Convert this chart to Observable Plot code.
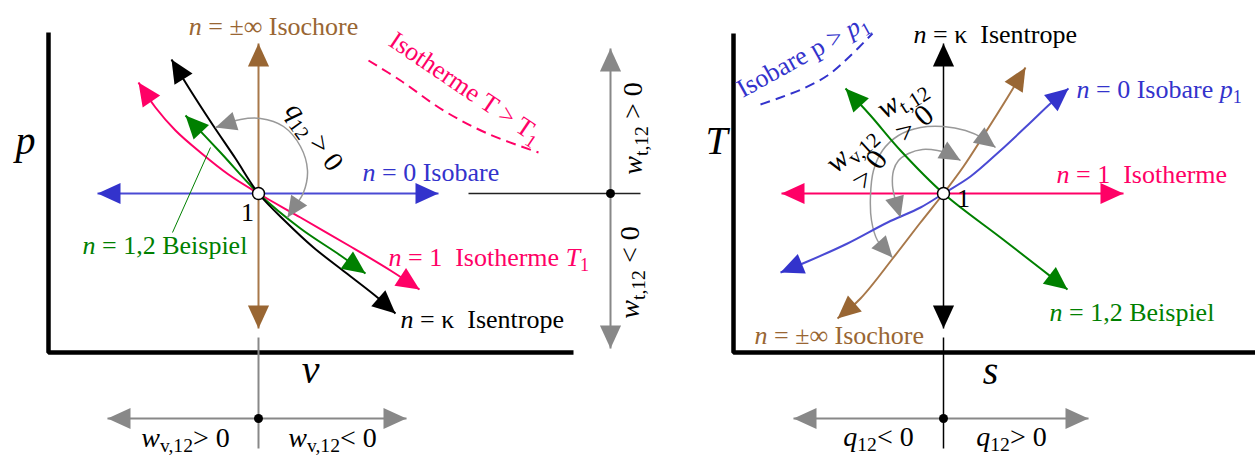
<!DOCTYPE html>
<html><head><meta charset="utf-8">
<script src="https://cdn.jsdelivr.net/npm/d3@7"></script>
<script src="https://cdn.jsdelivr.net/npm/@observablehq/plot@0.6"></script>
<style>
html,body{margin:0;padding:0;background:#fff;}
#wrap{display:flex;width:1255px;height:455px;overflow:hidden;}
#wrap svg{overflow:visible;flex:none;}
</style></head><body><div id="wrap"></div>
<script>
// ---------- p–v diagram, coordinates relative to state point 1 ----------
const pvFrame = [[-210,161],[-210,-159],[315,-159]];
const pvIsobar = [[-161,0],[180,0]];
const pvIsochor = [[0,150],[0,-135]];
const pvIsotherm = [[-120,111],[-103,86],[-83,63],[-58,41],[-30,19],[0,0],[42,-24],[92,-53],[132,-77],[161,-96]];
const pvPolytrope = [[-73,78],[-38,41],[0,0],[42,-35],[82,-62],[107,-80]];
const pvIsentrope = [[-87,134],[-68,103],[-46,69],[-23,35],[0,0],[27,-28],[55,-54],[87,-79],[119,-104],[137,-120]];
const pvIsothermHot = [[110,133],[142,113],[185,83],[229,60],[280,41]];
const pvHeatArc = [[-43,66],[-18,74],[2,75],[25,67],[42,47],[49,23],[45,1],[35,-15],[29,-24]];
const pvLeader = [[-48,46],[-86,-39]];
const pvWtAxis = [[352,145],[352,-155]];
const pvWtCross = [[210,0],[382,0]];
const pvWvAxis = [[-151,-225],[148,-225]];
const pvWvStem = [[0,-144],[0,-255]];
const pvOrigins = [[352,0],[0,-225]];

// ---------- T–s diagram, coordinates relative to state point 1 ----------
const tsFrame = [[-210,160],[-210,-159],[320,-159]];
const tsIsotherm = [[-162,0],[180,0]];
const tsIsentrope = [[0,150],[0,-135]];
const tsIsobar = [[-163,-79],[-136,-68],[-96,-50],[-56,-29],[-23,-14],[0,0],[27,17],[57,43],[87,71],[107,90],[125,105]];
const tsIsochor = [[-106,-125],[-83,-105],[-50,-64],[-23,-29],[0,0],[20,27],[42,61],[64,96],[82,126]];
const tsPolytrope = [[-98,105],[-73,78],[-43,43],[0,0],[57,-44],[97,-75],[124,-96]];
const tsIsobarHigh = [[-183,89],[-163,96],[-140,105],[-116,118],[-96,135],[-71,160]];
const tsArcOuter = [[-51,-64],[-66,-47],[-72,-27],[-73,-2],[-70,23],[-61,43],[-45,58],[-23,66],[0,67],[22,63],[40,55],[52,46]];
const tsArcInner = [[-43,-24],[-48,-7],[-51,8],[-50,23],[-45,33],[-35,40],[-21,44],[-6,43],[5,40],[17,33]];
const tsQAxis = [[-150,-225],[145,-225]];
const tsQStem = [[0,-144],[0,-255]];
const tsOrigins = [[0,-225]];

// ---------- labels ----------
const pvCurveLabels = [
  {t:"*n* = 0 Isobare", x:104, y:13, c:"#3333cc"},
  {t:"*n* = 1\u00a0\u00a0Isotherme *T*_{1}", x:130, y:-72, c:"#ff0066"},
  {t:"*n* = κ\u00a0\u00a0Isentrope", x:142, y:-134, c:"#000"},
  {t:"*n* = 1,2 Beispiel", x:-176, y:-60, c:"#008000"}
];
const pvTopLabel = [{t:"*n* = ±∞ Isochore", x:15, y:159, c:"#996633"}];
const pvRotLabels = [
  {t:"*q*_{12} > 0", x:56, y:57, r:54, c:"#000", s:28},
  {t:"Isotherme T > T_{1}", x:207, y:106, r:34, c:"#ff0066", s:26},
  {t:"*w*_{t,12} > 0", x:375, y:65, r:-90, c:"#000", s:28},
  {t:"*w*_{t,12} < 0", x:372, y:-79, r:-90, c:"#000", s:28}
];
const pvAxisLetters = [{t:"*p*", x:-233, y:40},{t:"*v*", x:52, y:-189}];
const pvWorkLabels = [{t:"*w*_{v,12}> 0", x:-73, y:-253},{t:"*w*_{v,12}< 0", x:74, y:-253}];
const pvPointLabel = [{t:"1", x:-11, y:-27}];

const tsCurveLabels = [
  {t:"*n* = κ\u00a0\u00a0Isentrope", x:-30, y:151, c:"#000"},
  {t:"*n* = 0 Isobare *p*_{1}", x:133, y:96, c:"#3333cc"},
  {t:"*n* = 1\u00a0\u00a0Isotherme", x:113, y:11, c:"#ff0066"},
  {t:"*n* = 1,2 Beispiel", x:106, y:-127, c:"#008000"},
  {t:"*n* = ±∞ Isochore", x:-189, y:-150, c:"#996633"}
];
const tsRotLabels = [
  {t:"Isobare p > *p*_{1}", x:-141, y:138, r:-29, c:"#3333cc", s:26},
  {t:"*w*_{t,12}", x:-42, y:96, r:-32, c:"#000", s:30},
  {t:"> 0", x:-29, y:70, r:-40, c:"#000", s:30},
  {t:"*w*_{v,12}", x:-93, y:45, r:-42, c:"#000", s:30},
  {t:"> 0", x:-74, y:24, r:-55, c:"#000", s:30}
];
const tsAxisLetters = [{t:"*T*", x:-227, y:40},{t:"*s*", x:47, y:-190}];
const tsHeatLabels = [{t:"*q*_{12}< 0", x:-65, y:-252},{t:"*q*_{12}> 0", x:68, y:-252}];
const tsPointLabel = [{t:"1", x:20, y:-13}];

// ---------- helpers ----------
const BLUE="#3333cc", BLUEL="#4a4ad4", BROWN="#996633", BROWNL="#a8784a", PINK="#ff0066", GREEN="#008000", GRAY="#888888";
const arrowSym = {draw(ctx, size){ const r = Math.sqrt(size/Math.PI); ctx.moveTo(0,0); ctx.lineTo(-0.92*r, 2*r); ctx.lineTo(0.92*r, 2*r); ctx.closePath(); }};
function ends(pts, both){
  const h = (a,b) => ({x:a[0], y:a[1], a: Math.atan2(a[0]-b[0], a[1]-b[1])*180/Math.PI});
  const n = pts.length, out = [h(pts[n-1], pts[n-2])];
  if (both) out.push(h(pts[0], pts[1]));
  return out;
}
const L = (pts, o) => Plot.line(pts, {x:d=>d[0], y:d=>d[1], curve:"catmull-rom", strokeLinecap:"butt", strokeLinejoin:"miter", ...o});
const H = (pts, both, fill, r=11.5) => Plot.dot(ends(pts, both), {x:"x", y:"y", rotate:"a", symbol:arrowSym, r, fill, stroke:"none"});
const T = (items, o) => Plot.text(items, {x:"x", y:"y", text:"t", fontFamily:"Liberation Serif", fontSize:26, lineAnchor:"bottom", ...o});
const origin = Plot.dot([[0,0]], {x:d=>d[0], y:d=>d[1], r:6, fill:"white", stroke:"black", strokeWidth:1.5});

const ns = "http://www.w3.org/2000/svg";
function richify(svg){
  svg.querySelectorAll("text").forEach(el => {
    const s = el.textContent;
    if (!/[*_]/.test(s)) return;
    while (el.firstChild) el.removeChild(el.firstChild);
    const re = /\*([^*]+)\*|_\{([^}]+)\}|([^*_]+)/g;
    let m, lowered = false;
    while ((m = re.exec(s)) !== null) {
      const t = document.createElementNS(ns, "tspan");
      if (m[2] !== undefined) {
        t.textContent = m[2];
        t.setAttribute("font-size", "70%");
        t.setAttribute("dy", "0.3em");
        lowered = true;
      } else {
        t.textContent = m[1] !== undefined ? m[1] : m[3];
        if (m[1] !== undefined) t.setAttribute("font-style", "italic");
        if (lowered) { t.setAttribute("dy", "-0.21em"); lowered = false; }
      }
      el.appendChild(t);
    }
  });
  return svg;
}
function panel(width, xdom, marks){
  return richify(Plot.plot({
    width, height:455, margin:0,
    x:{domain:xdom, axis:null}, y:{domain:[-262,193], axis:null},
    style:{overflow:"visible", background:"transparent", fontFamily:"Liberation Serif"},
    marks
  }));
}

// ---------- p–v panel ----------
const pv = panel(680, [-258,422], [
  L(pvFrame, {stroke:"black", strokeWidth:4.5, curve:"linear"}),
  L(pvIsothermHot, {stroke:PINK, strokeWidth:2, strokeDasharray:"10,6"}),
  L(pvIsochor, {stroke:BROWNL, strokeWidth:2}),
  L(pvIsobar, {stroke:BLUEL, strokeWidth:2}),
  L(pvIsotherm, {stroke:PINK, strokeWidth:2}),
  L(pvPolytrope, {stroke:GREEN, strokeWidth:2}),
  L(pvIsentrope, {stroke:"black", strokeWidth:2}),
  L(pvHeatArc, {stroke:"#999", strokeWidth:1.5}),
  L(pvLeader, {stroke:GREEN, strokeWidth:1}),
  L(pvWtAxis, {stroke:GRAY, strokeWidth:2}),
  L(pvWtCross, {stroke:"#222", strokeWidth:1.5}),
  L(pvWvAxis, {stroke:GRAY, strokeWidth:2}),
  L(pvWvStem, {stroke:GRAY, strokeWidth:2}),
  H(pvIsochor, true, BROWN),
  H(pvIsobar, true, BLUE),
  H(pvIsotherm, true, PINK),
  H(pvPolytrope, true, GREEN),
  H(pvIsentrope, true, "black"),
  H(pvHeatArc, true, GRAY, 10.5),
  H(pvWtAxis, true, GRAY),
  H(pvWvAxis, true, GRAY),
  Plot.dot(pvOrigins, {x:d=>d[0], y:d=>d[1], r:4.5, fill:"black"}),
  origin,
  T(pvCurveLabels, {fill:"c", textAnchor:"start"}),
  T(pvTopLabel, {fill:"c", textAnchor:"middle"}),
  T(pvRotLabels, {fill:"c", rotate:"r", fontSize:"s", textAnchor:"middle", lineAnchor:"middle"}),
  T(pvAxisLetters, {fontSize:40, textAnchor:"middle"}),
  T(pvWorkLabels, {fontSize:28, textAnchor:"middle"}),
  T(pvPointLabel, {textAnchor:"middle"})
]);

// ---------- T–s panel ----------
const ts = panel(575, [-263,312], [
  L(tsFrame, {stroke:"black", strokeWidth:4.5, curve:"linear"}),
  L(tsIsobarHigh, {stroke:BLUE, strokeWidth:2, strokeDasharray:"10,6"}),
  L(tsIsotherm, {stroke:PINK, strokeWidth:2}),
  L(tsIsentrope, {stroke:"black", strokeWidth:1.5}),
  L(tsQStem, {stroke:"black", strokeWidth:1.5}),
  L(tsArcOuter, {stroke:"#999", strokeWidth:1.5}),
  L(tsArcInner, {stroke:"#999", strokeWidth:1.5}),
  L(tsPolytrope, {stroke:GREEN, strokeWidth:2}),
  L(tsIsochor, {stroke:BROWNL, strokeWidth:2}),
  L(tsIsobar, {stroke:BLUEL, strokeWidth:2}),
  L(tsQAxis, {stroke:GRAY, strokeWidth:2}),
  H(tsIsotherm, true, PINK),
  H(tsIsentrope, true, "black"),
  H(tsIsobar, true, BLUE),
  H(tsIsochor, true, BROWN),
  H(tsPolytrope, true, GREEN),
  H(tsArcOuter, true, GRAY, 10.5),
  H(tsArcInner, true, GRAY, 10.5),
  H(tsQAxis, true, GRAY),
  Plot.dot(tsOrigins, {x:d=>d[0], y:d=>d[1], r:4.5, fill:"black"}),
  origin,
  T(tsCurveLabels, {fill:"c", textAnchor:"start"}),
  T(tsRotLabels, {fill:"c", rotate:"r", fontSize:"s", textAnchor:"middle", lineAnchor:"middle"}),
  T(tsAxisLetters, {fontSize:40, textAnchor:"middle"}),
  T(tsHeatLabels, {fontSize:28, textAnchor:"middle"}),
  T(tsPointLabel, {textAnchor:"middle"})
]);

document.getElementById("wrap").append(pv, ts);
</script></body></html>
